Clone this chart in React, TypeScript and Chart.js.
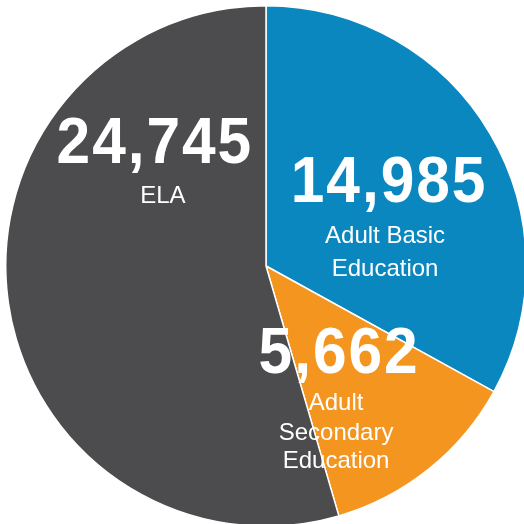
import React, { useEffect, useRef } from "react";
import { Chart, registerables } from "chart.js";

Chart.register(...registerables);

const categories = ["Adult Basic Education", "Adult Secondary Education", "ELA"];
const values = [14985, 5662, 24745];
const valueLabels = ["14,985", "5,662", "24,745"];
const labelLines = [["Adult Basic", "Education"], ["Adult", "Secondary", "Education"], ["ELA"]];
const colors = ["#0B87C0", "#F4951F", "#4C4C4E"];

// label placement relative to pie centre, in units of the radius
const placement = [
  { dx: 0.469, dy: -0.246, lx: -3, gaps: [41, 74] },
  { dx: 0.277, dy: 0.412, lx: -2, gaps: [37, 67, 95] },
  { dx: -0.431, dy: -0.396, lx: 9, gaps: [40] },
];

const labelPlugin = {
  id: "sliceLabels",
  afterDatasetsDraw(chart: any) {
    const meta = chart.getDatasetMeta(0);
    const arc0 = meta.data[0];
    if (!arc0) return;
    const cx = arc0.x;
    const cy = arc0.y;
    const r = arc0.outerRadius;
    const ctx = chart.ctx;
    ctx.save();
    ctx.fillStyle = "#FFFFFF";
    ctx.textAlign = "center";
    ctx.textBaseline = "alphabetic";
    valueLabels.forEach((v, i) => {
      const p = placement[i];
      const x = cx + p.dx * r;
      const y = cy + p.dy * r;
      ctx.save();
      ctx.translate(x + 1, y);
      ctx.scale(0.96, 1.04);
      ctx.font = "bold 63px 'Liberation Sans', Arial, sans-serif";
      (ctx as any).letterSpacing = "2px";
      ctx.fillText(v, 0, 0);
      ctx.restore();
      (ctx as any).letterSpacing = "0px";
      ctx.font = "24px 'Liberation Sans', Arial, sans-serif";
      labelLines[i].forEach((line, j) => {
        ctx.fillText(line, x + p.lx, y + p.gaps[j]);
      });
    });
    ctx.restore();
  },
};

export default function App() {
  const ref = useRef<HTMLCanvasElement>(null);
  useEffect(() => {
    if (!ref.current) return;
    const chart = new Chart(ref.current, {
      type: "pie",
      data: {
        labels: categories,
        datasets: [
          {
            data: values,
            backgroundColor: colors,
            borderColor: "#FFFFFF",
            borderWidth: 1.5,
          },
        ],
      },
      options: {
        responsive: false,
        animation: false,
        layout: { padding: 5 },
        plugins: {
          legend: { display: false },
          tooltip: { enabled: false },
        },
      },
      plugins: [labelPlugin],
    });
    return () => chart.destroy();
  }, []);
  return (
    <div
      style={{
        position: "fixed",
        top: 0,
        left: 0,
        width: 524,
        height: 524,
        overflow: "hidden",
        background: "#FFFFFF",
      }}
    >
      <canvas ref={ref} width={532} height={532} style={{ display: "block" }} />
    </div>
  );
}
